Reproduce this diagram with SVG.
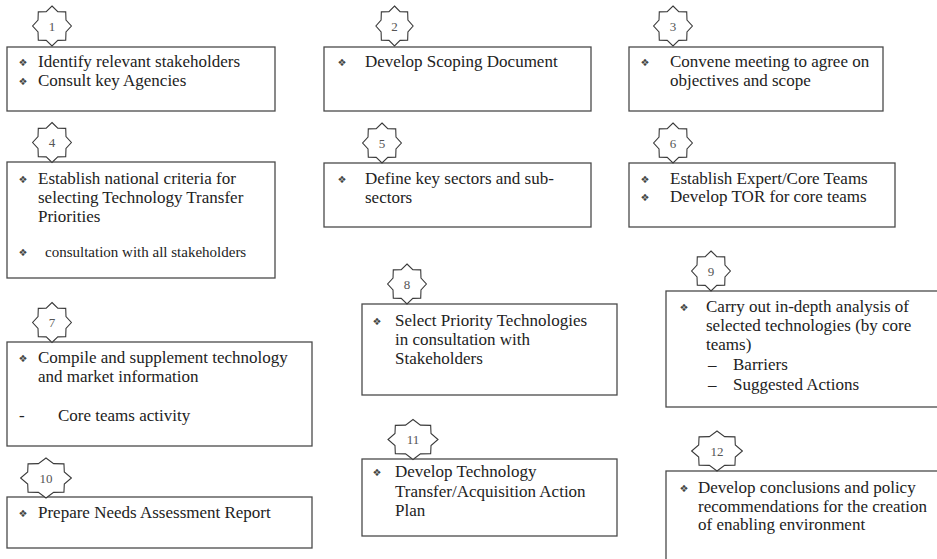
<svg xmlns="http://www.w3.org/2000/svg" xmlns:xlink="http://www.w3.org/1999/xlink" width="937" height="559" viewBox="0 0 937 559">
<style>
.bg{fill:#ffffff}
.box{fill:#ffffff;stroke:#4a4a4a;stroke-width:1.3}
.star{fill:#ffffff;stroke:#3a3a3a;stroke-width:1.1}
.t{font-family:"Liberation Serif","Times New Roman",serif;font-size:17px;fill:#222222}
.ts{font-family:"Liberation Serif","Times New Roman",serif;font-size:15px;fill:#222222}
.num{font-family:"Liberation Serif","Times New Roman",serif;font-size:13px;fill:#555555;text-anchor:middle}
.b{font-family:"DejaVu Sans",sans-serif;font-size:10px;fill:#444444;text-anchor:middle}
</style>
<defs>
<polygon id="star" vector-effect="non-scaling-stroke" points="0,-20 5.97,-14.41 14.14,-14.14 14.41,-5.97 20,0 14.41,5.97 14.14,14.14 5.97,14.41 0,20 -5.97,14.41 -14.14,14.14 -14.41,5.97 -20,0 -14.41,-5.97 -14.14,-14.14 -5.97,-14.41"/>
</defs>
<rect class="bg" x="0" y="0" width="937" height="559"/>
<g id="connectors"></g>

<g id="node1">
<rect class="box" x="7" y="47" width="268" height="64"/>
<use xlink:href="#star" href="#star" class="star" transform="translate(52,26) scale(0.97,1)"/>
<text class="num" x="52" y="30.5">1</text>
<text class="b" x="23" y="66">❖</text>
<text class="t" x="38" y="67">Identify relevant stakeholders</text>
<text class="b" x="23" y="85">❖</text>
<text class="t" x="38" y="86">Consult key Agencies</text>
</g>

<g id="node2">
<rect class="box" x="324" y="47" width="267" height="64"/>
<use xlink:href="#star" href="#star" class="star" transform="translate(394.5,26) scale(0.93,1)"/>
<text class="num" x="394.5" y="30.5">2</text>
<text class="b" x="342" y="66">❖</text>
<text class="t" x="365" y="67">Develop Scoping Document</text>
</g>

<g id="node3">
<rect class="box" x="629" y="47" width="254" height="64"/>
<use xlink:href="#star" href="#star" class="star" transform="translate(673,26) scale(0.97,1)"/>
<text class="num" x="673" y="30.5">3</text>
<text class="b" x="645" y="66">❖</text>
<text class="t" x="670" y="67">Convene meeting to agree on</text>
<text class="t" x="670" y="86">objectives and scope</text>
</g>

<g id="node4">
<rect class="box" x="7" y="162" width="268" height="116"/>
<use xlink:href="#star" href="#star" class="star" transform="translate(52,142.5) scale(0.97,1)"/>
<text class="num" x="52" y="147">4</text>
<text class="b" x="23" y="183">❖</text>
<text class="t" x="38" y="184">Establish national criteria for</text>
<text class="t" x="38" y="203">selecting Technology Transfer</text>
<text class="t" x="38" y="222">Priorities</text>
<text class="b" x="23" y="256">❖</text>
<text class="ts" x="45" y="257">consultation with all stakeholders</text>
</g>

<g id="node5">
<rect class="box" x="324" y="163" width="267" height="64"/>
<use xlink:href="#star" href="#star" class="star" transform="translate(382,143) scale(0.97,1)"/>
<text class="num" x="382" y="147.5">5</text>
<text class="b" x="342" y="183">❖</text>
<text class="t" x="365" y="184">Define key sectors and sub-</text>
<text class="t" x="365" y="203">sectors</text>
</g>

<g id="node6">
<rect class="box" x="629" y="163" width="266" height="64"/>
<use xlink:href="#star" href="#star" class="star" transform="translate(673,143) scale(0.97,1)"/>
<text class="num" x="673" y="147.5">6</text>
<text class="b" x="645" y="183">❖</text>
<text class="t" x="670" y="184">Establish Expert/Core Teams</text>
<text class="b" x="645" y="201">❖</text>
<text class="t" x="670" y="202">Develop TOR for core teams</text>
</g>

<g id="node7">
<rect class="box" x="7" y="342" width="305" height="104"/>
<use xlink:href="#star" href="#star" class="star" transform="translate(52,322.5) scale(0.97,1)"/>
<text class="num" x="52" y="327">7</text>
<text class="b" x="23" y="362">❖</text>
<text class="t" x="38" y="363">Compile and supplement technology</text>
<text class="t" x="38" y="382">and market information</text>
<text class="t" x="19" y="421">-</text>
<text class="t" x="58" y="421">Core teams activity</text>
</g>

<g id="node8">
<rect class="box" x="362" y="304" width="255" height="91"/>
<use xlink:href="#star" href="#star" class="star" transform="translate(407,284) scale(0.97,1)"/>
<text class="num" x="407" y="288.5">8</text>
<text class="b" x="377" y="325">❖</text>
<text class="t" x="395" y="326">Select Priority Technologies</text>
<text class="t" x="395" y="345">in consultation with</text>
<text class="t" x="395" y="364">Stakeholders</text>
</g>

<g id="node9">
<rect class="box" x="666" y="291" width="290" height="116"/>
<use xlink:href="#star" href="#star" class="star" transform="translate(711,271) scale(0.97,1)"/>
<text class="num" x="711" y="275.5">9</text>
<text class="b" x="684" y="311">❖</text>
<text class="t" x="706" y="312">Carry out in-depth analysis of</text>
<text class="t" x="706" y="331">selected technologies (by core</text>
<text class="t" x="706" y="350">teams)</text>
<text class="t" x="708" y="370">–</text>
<text class="t" x="733" y="370">Barriers</text>
<text class="t" x="708" y="390">–</text>
<text class="t" x="733" y="390">Suggested Actions</text>
</g>

<g id="node10">
<rect class="box" x="7" y="497" width="305" height="51"/>
<use xlink:href="#star" href="#star" class="star" transform="translate(46,478) scale(1.27,1)"/>
<text class="num" x="46" y="482.5">10</text>
<text class="b" x="23" y="517">❖</text>
<text class="t" x="38" y="518">Prepare Needs Assessment Report</text>
</g>

<g id="node11">
<rect class="box" x="362" y="459" width="255" height="77"/>
<use xlink:href="#star" href="#star" class="star" transform="translate(413,439.5) scale(1.25,1)"/>
<text class="num" x="413" y="444">11</text>
<text class="b" x="377" y="476">❖</text>
<text class="t" x="395" y="477">Develop Technology</text>
<text class="t" x="395" y="497">Transfer/Acquisition Action</text>
<text class="t" x="395" y="516">Plan</text>
</g>

<g id="node12">
<rect class="box" x="666" y="471" width="290" height="110"/>
<use xlink:href="#star" href="#star" class="star" transform="translate(717,451) scale(1.27,1)"/>
<text class="num" x="717" y="455.5">12</text>
<text class="b" x="684" y="492">❖</text>
<text class="t" x="698" y="493">Develop conclusions and policy</text>
<text class="t" x="698" y="512">recommendations for the creation</text>
<text class="t" x="698" y="530">of enabling environment</text>
</g>
</svg>
